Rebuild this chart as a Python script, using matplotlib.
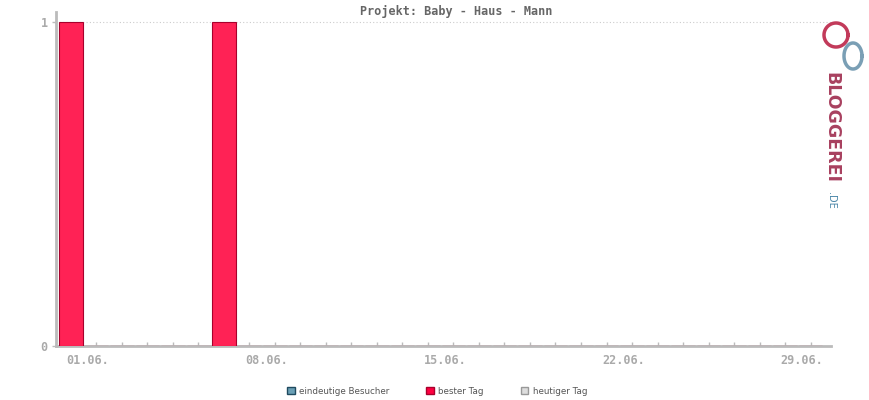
import matplotlib.pyplot as plt
from matplotlib.patches import Patch
import numpy as np

# data
TITLE = "Projekt: Baby - Haus - Mann"
days = list(range(1, 31))
besucher = [0] * 30
bester_tag = [1 if d in (1, 7) else 0 for d in days]
tick_days = [1, 8, 15, 22, 29]
tick_labels = ["01.06.", "08.06.", "15.06.", "22.06.", "29.06."]
legend_labels = ["eindeutige Besucher", "bester Tag", "heutiger Tag"]

AXIS_GREY = "#bbbbbb"
TEXT_GREY = "#aaaaaa"

fig = plt.figure(figsize=(8.7, 4), dpi=100)
ax = fig.add_axes([56 / 870, 54 / 400, (831 - 56) / 870, (346 - 12) / 400])

ax.bar(days, bester_tag, width=0.92, color="#ff2255", edgecolor="#a8002c", linewidth=0.8, zorder=3)

ax.set_xlim(0.42, 30.8)
ax.set_ylim(0, 1.031)

# dotted gridline at 1
ax.axhline(1, color="#cccccc", linestyle=(0, (1, 2)), linewidth=0.8, zorder=1)

for s in ["top", "right"]:
    ax.spines[s].set_visible(False)
for s in ["left", "bottom"]:
    ax.spines[s].set_color(AXIS_GREY)
    ax.spines[s].set_linewidth(2)

ax.set_xticks(days)
ax.set_xticklabels([])
ax.tick_params(axis="x", direction="in", length=3, width=1, color=AXIS_GREY)
for d, lab in zip(tick_days, tick_labels):
    ax.text(d - 0.17, -0.025, lab, ha="left", va="top", fontsize=8.5,
            family="DejaVu Sans Mono", fontweight="bold", color=TEXT_GREY)

ax.set_yticks([0, 1])
ax.set_yticklabels(["0", "1"], family="DejaVu Sans Mono", fontweight="bold",
                   fontsize=8.5, color=TEXT_GREY)
ax.tick_params(axis="y", direction="out", length=3, width=1, color=AXIS_GREY, pad=3)

fig.text(456 / 870, 1 - 12 / 400, TITLE, ha="center", va="center", fontsize=8.5,
         family="DejaVu Sans Mono", fontweight="bold", color="#666666")

# logo text
fig.text(831 / 870, 1 - 72 / 400, "BLOGGEREI", rotation=-90, ha="center", va="top",
         fontsize=12.5, fontweight="bold", color="#a8405f", family="DejaVu Sans")
fig.text(831 / 870, 1 - 192 / 400, ".DE", rotation=-90, ha="center", va="top",
         fontsize=7, color="#4a86a8", family="DejaVu Sans")
# logo bubbles
logo = fig.add_axes([812 / 870, 1 - 72 / 400, 56 / 870, 52 / 400])
logo.set_xlim(0, 56)
logo.set_ylim(52, 0)
logo.axis("off")
t = np.linspace(0, 2 * np.pi, 100)
logo.plot(24 + 12 * np.cos(t), 15 + 12 * np.sin(t), color="#c23a5a", linewidth=2.5)
logo.plot(41 + 9 * np.cos(t), 36 + 13 * np.sin(t), color="#7a9fb5", linewidth=2.5)

handles = [
    Patch(facecolor="#6a9fb5", edgecolor="#1f4a5f"),
    Patch(facecolor="#ff0040", edgecolor="#a8002c"),
    Patch(facecolor="#dddddd", edgecolor="#999999"),
]
leg = fig.legend(handles, legend_labels, loc="center", bbox_to_anchor=(437 / 870, 1 - 391 / 400),
                 ncol=3, frameon=False, fontsize=6.3, handlelength=0.9, handleheight=0.9,
                 handletextpad=0.5, columnspacing=4.2)
for txt in leg.get_texts():
    txt.set_color("#555555")

fig.savefig("out.png", dpi=100)
